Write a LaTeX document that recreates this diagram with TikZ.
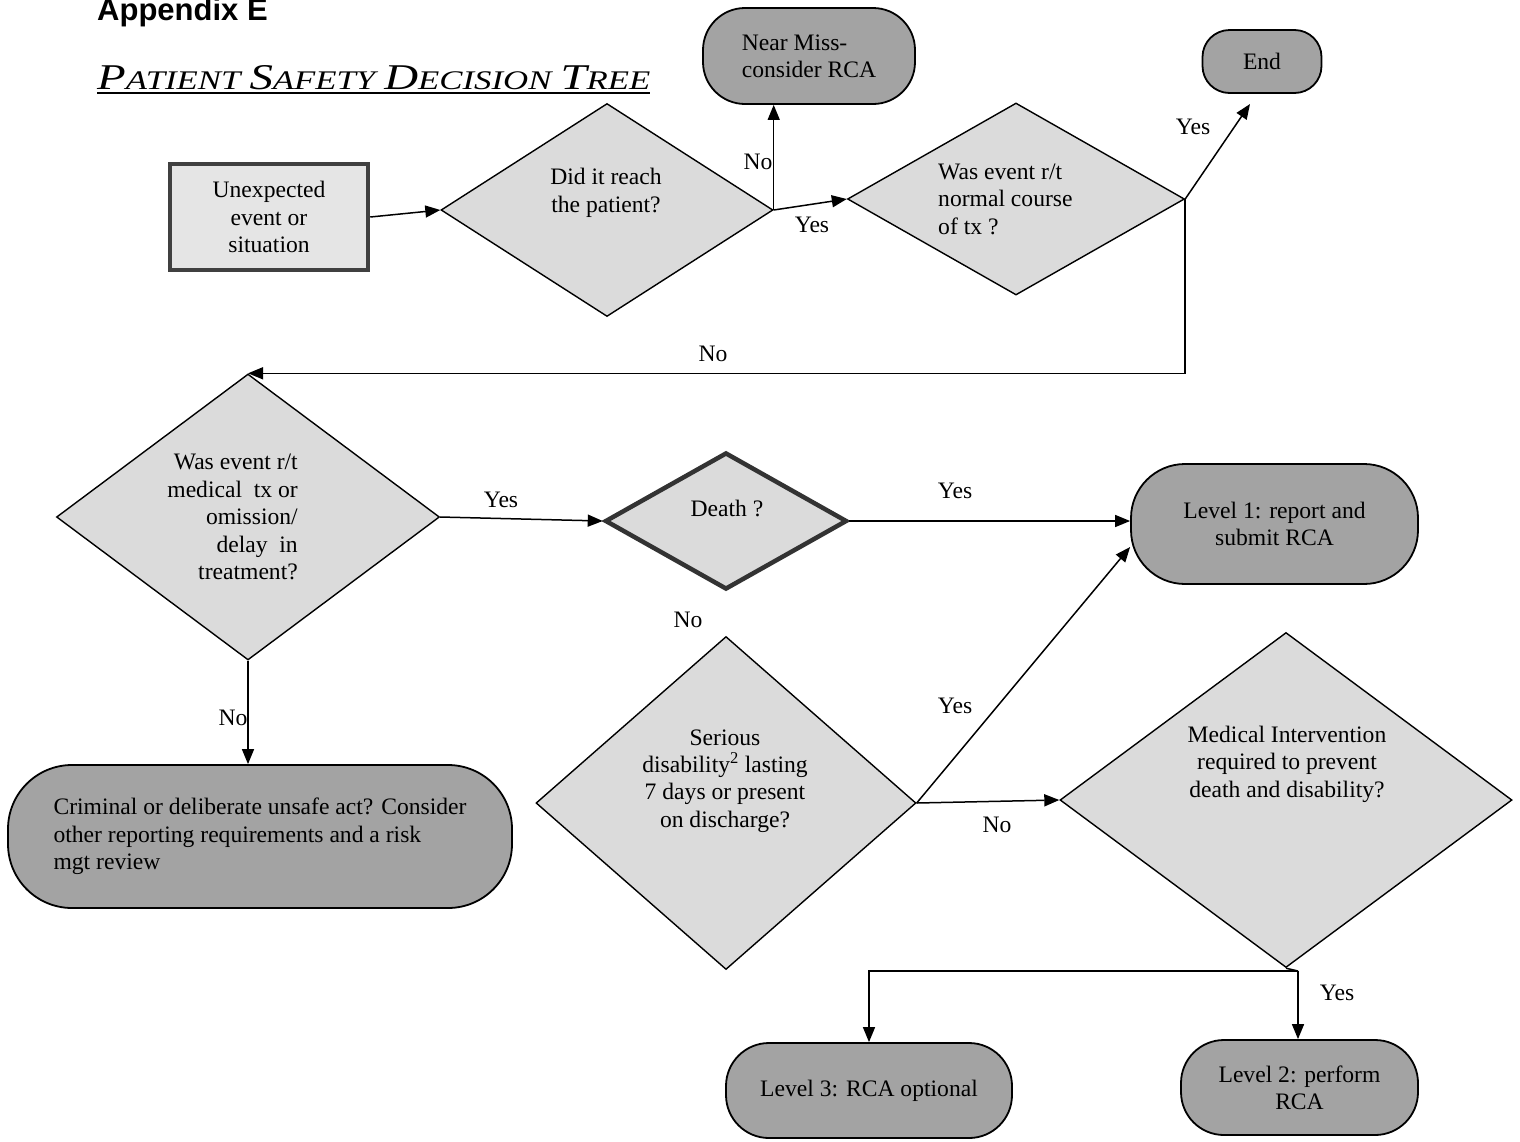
\documentclass[tikz,border=0pt]{standalone}
\usepackage{fontspec}
\setmainfont{Liberation Serif}
\newfontfamily\headsans{Liberation Sans}
\usetikzlibrary{shapes.geometric,arrows.meta}
\newcommand\bigsc[2]{{\fontsize{31}{31}\selectfont #1}{\fontsize{23}{23}\selectfont #2}}
\begin{document}
\begin{tikzpicture}[x=1pt,y=-1pt,
  every node/.style={font=\fontsize{23.6}{27.4}\selectfont},
  dia/.style={diamond, draw, line width=1.4pt, fill=black!14, inner sep=0pt},
  term/.style={rectangle, draw, line width=1.8pt, fill=black!36, align=center, inner sep=0pt},
  arr/.style={line width=1.5pt, -{Triangle[length=15pt,width=12pt]}},
  ln/.style={line width=1.5pt},
  lbl/.style={inner sep=0pt}]
\useasboundingbox (0,0) rectangle (1520,1141);
\fill[white] (0,0) rectangle (1520,1141);

% headings
\node[anchor=base west, inner sep=0pt, font=\headsans\bfseries\fontsize{31}{31}\selectfont] (app) at (97,20) {Appendix E};
\node[anchor=base west, inner sep=0pt, font=\itshape] (title) at (97,89)
  {\resizebox{553pt}{24pt}{\bigsc{P}{ATIENT}\hspace{0.6em}\bigsc{S}{AFETY}\hspace{0.6em}\bigsc{D}{ECISION}\hspace{0.6em}\bigsc{T}{REE}}};
\draw[line width=1.6pt] ([yshift=-4pt]title.base west) -- ([yshift=-4pt]title.base east);

% start box
\node[rectangle, draw=black!75, line width=4.5pt, fill=black!10, minimum width=198pt, minimum height=106pt, align=center] (unexp) at (269,217) {Unexpected\\event or\\situation};

% diamonds
\node[dia, minimum width=332pt, minimum height=213pt] (reach) at (607,210) {};
\node[lbl, align=center] (reachT) at (606,193) {Did it reach\\the patient?};

\node[dia, minimum width=337pt, minimum height=192pt] (normal) at (1016,199) {};
\node[lbl, align=left, anchor=west] (normalT) at (938,199) {Was event r/t\\normal course\\of tx ?};

\node[dia, minimum width=383pt, minimum height=286pt] (medtx) at (248,517) {};
\node[lbl, align=right, anchor=east] (medtxT) at (298,517) {Was event r/t\\medical\ \ tx or\\omission/\\delay\ \ in\\treatment?};

\node[dia, draw=black!80, line width=4.5pt, minimum width=242pt, minimum height=137pt] (death) at (726,521) {};
\node[lbl] (deathT) at (727,508) {Death ?};

\node[dia, minimum width=380pt, minimum height=333pt] (serious) at (726,803) {};
\node[lbl, align=center] (seriousT) at (725,781) {Serious\\disability\textsuperscript{2} lasting\\7 days or present\\on discharge?};

\node[dia, minimum width=452pt, minimum height=335pt] (medical) at (1286,800) {};
\node[lbl, align=center] (medicalT) at (1287,764) {Medical Intervention\\required to prevent\\death and disability?};

% terminals
\node[term, align=left, minimum width=212pt, minimum height=96pt, rounded corners=42pt] (nearmiss) at (809,56) {Near Miss-\\consider RCA};
\node[term, minimum width=119pt, minimum height=63pt, rounded corners=27pt] (end) at (1262,61.5) {End};
\node[term, minimum width=287pt, minimum height=120pt, rounded corners=54pt] (level1) at (1274.5,524) {Level 1: report and\\submit RCA};
\node[term, align=left, minimum width=504pt, minimum height=143pt, rounded corners=64pt] (criminal) at (260,836.5) {Criminal or deliberate unsafe act? Consider\\other reporting requirements and a risk\\mgt review};
\node[term, minimum width=286pt, minimum height=95pt, rounded corners=43pt] (level3) at (869,1090.5) {Level 3: RCA optional};
\node[term, minimum width=237pt, minimum height=95pt, rounded corners=43pt] (level2) at (1299.5,1087.5) {Level 2: perform\\RCA};

% connectors
\coordinate (endtip) at (1250,104);
\coordinate (j2) at (1298,971);
\draw[arr] (unexp.east) -- (reach.west);
\draw[arr] (reach.east) -- (reach.east |- nearmiss.south);
\draw[arr] (reach.east) -- (normal.west);
\draw[arr] (normal.east) -- (endtip);
\draw[arr] (normal.east) |- (medtx.north);
\draw[arr] (medtx.east) -- (death.west);
\draw[arr] (death.east) -- (death.east -| level1.west);
\draw[arr] (medtx.south) -- (medtx.south |- criminal.north);
\draw[arr] (serious.east) -- ([yshift=-23pt]level1.west);
\draw[arr] (serious.east) -- (medical.west);
\draw[ln] (medical.south) -- (j2);
\draw[arr] (j2) -- (j2 |- level2.north);
\draw[arr] (j2) -| (level3.north);

% labels
\node[lbl] (l1) at (758,162) {No};
\node[lbl] (l2) at (812,225) {Yes};
\node[lbl] (l3) at (1193,127) {Yes};
\node[lbl] (l4) at (713,354) {No};
\node[lbl] (l5) at (501,500) {Yes};
\node[lbl] (l6) at (955,491) {Yes};
\node[lbl] (l7) at (688,620) {No};
\node[lbl] (l8) at (955,706) {Yes};
\node[lbl] (l9) at (997,825) {No};
\node[lbl] (l10) at (1337,993) {Yes};
\node[lbl] (l11) at (233,718) {No};
\end{tikzpicture}
\end{document}
